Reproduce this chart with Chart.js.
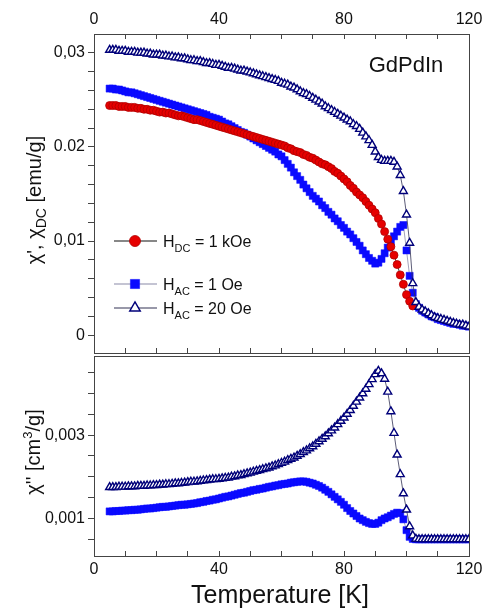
<!DOCTYPE html>
<html>
<head>
<meta charset="utf-8">
<script src="https://cdn.jsdelivr.net/npm/chart.js@4.4.1/dist/chart.umd.min.js"></script>
<style>
  html, body { margin: 0; padding: 0; background: #fff; }
  #wrap { position: relative; width: 490px; height: 611px; overflow: hidden; }
  canvas { position: absolute; left: 0; }
  #top { top: 0; }
  #bottom { top: 350px; }
</style>
</head>
<body>
<div id="wrap">
  <canvas id="top" width="490" height="360"></canvas>
  <canvas id="bottom" width="490" height="261"></canvas>
</div>
<script>
// Temperature grid, K
const temps = [
  5, 6, 7, 8, 9, 10, 11, 12, 13, 14,
  15, 16, 17, 18, 19, 20, 21, 22, 23, 24,
  25, 26, 27, 28, 29, 30, 31, 32, 33, 34,
  35, 36, 37, 38, 39, 40, 41, 42, 43, 44,
  45, 46, 47, 48, 49, 50, 51, 52, 53, 54,
  55, 56, 57, 58, 59, 60, 61, 62, 63, 64,
  65, 66, 67, 68, 69, 70, 71, 72, 73, 74,
  75, 76, 77, 78, 79, 80, 81, 82, 83, 84,
  85, 86, 87, 88, 89, 90, 91, 92, 93, 94,
  95, 96, 97, 98, 99, 100, 101, 102, 103, 104,
  105, 106, 107, 108, 109, 110, 111, 112, 113, 114,
  115, 116, 117, 118, 119, 120
];

// chi_DC, H_DC = 1 kOe (emu/g)
const chiDC_1kOe = [
  .0244, .0244, .0244, .0243, .0243, .0243, .0242, .0242, .0242, .0241,
  .0241, .0240, .0240, .0239, .0239, .0238, .0237, .0237, .0236, .0236,
  .0235, .0234, .0233, .0233, .0232, .0231, .0230, .0229, .0229, .0228,
  .0227, .0226, .0225, .0224, .0223, .0222, .0221, .0220, .0219, .0218,
  .0217, .0216, .0215, .0214, .0213, .0212, .0211, .0210, .0209, .0208,
  .0207, .0206, .0205, .0204, .0203, .0202, .0201, .0199, .0198, .0196,
  .0195, .0194, .0192, .0191, .0189, .0188, .0186, .0184, .0182, .0181,
  .0179, .0177, .0174, .0172, .0169, .0166, .0163, .0159, .0156, .0152,
  .0149, .0146, .0142, .0138, .0134, .0130, .0124, .0118, .0110, .0102,
  .0094, .0085, .0075, .0064, .0054, .0043, .0036, .0031, null, null,
  null, null, null, null, null, null, null, null, null, null,
  null, null, null, null, null, null
];

// chi', H_AC = 1 Oe
const chiRe_1Oe = [
  .0262, .0262, .0261, .0261, .0260, .0259, .0258, .0258, .0257, .0256,
  .0255, .0254, .0253, .0252, .0251, .0250, .0249, .0248, .0247, .0246,
  .0245, .0244, .0243, .0242, .0241, .0240, .0239, .0238, .0237, .0236,
  .0235, .0234, .0232, .0231, .0230, .0229, .0227, .0225, .0224, .0222,
  .0220, .0218, .0216, .0215, .0213, .0211, .0209, .0207, .0205, .0203,
  .0201, .0199, .0197, .0195, .0192, .0190, .0186, .0182, .0178, .0173,
  .0169, .0165, .0160, .0156, .0152, .0148, .0145, .0142, .0138, .0135,
  .0131, .0128, .0124, .0121, .0117, .0114, .0110, .0107, .0103, .0099,
  .0095, .0090, .0086, .0082, .0079, .0076, .0077, .0081, .0087, .0093,
  .0099, .0105, .0110, .0115, .0117, .0090, .0063, .0045, .0033, .0029,
  .0026, .0024, .0022, .0020, .0019, .0017, .0016, .0015, .0014, .0013,
  .0012, .0012, .0011, .0010, .0010, .0009
];

// chi', H_AC = 20 Oe
const chiRe_20Oe = [
  .0303, .0303, .0303, .0302, .0302, .0302, .0301, .0301, .0301, .0300,
  .0300, .0300, .0299, .0299, .0298, .0298, .0298, .0297, .0297, .0296,
  .0296, .0295, .0295, .0294, .0294, .0293, .0292, .0292, .0291, .0291,
  .0290, .0289, .0289, .0288, .0287, .0287, .0286, .0285, .0284, .0284,
  .0283, .0282, .0281, .0281, .0280, .0279, .0278, .0277, .0276, .0275,
  .0274, .0273, .0272, .0271, .0270, .0268, .0267, .0266, .0264, .0263,
  .0261, .0259, .0257, .0256, .0254, .0252, .0250, .0248, .0246, .0243,
  .0241, .0239, .0237, .0235, .0233, .0231, .0229, .0227, .0224, .0222,
  .0219, .0215, .0211, .0207, .0202, .0195, .0189, .0186, .0185, .0185,
  .0185, .0184, .0179, .0170, .0153, .0128, .0098, .0055, .0035, .0030,
  .0027, .0025, .0023, .0021, .0019, .0018, .0017, .0016, .0015, .0014,
  .0013, .0012, .0011, .0011, .0010, .0009
];

// chi'', H_AC = 1 Oe (cm3/g)
const chiIm_1Oe = [
  .00117, .00117, .00118, .00118, .00119, .00119, .00120, .00120, .00121, .00121,
  .00122, .00123, .00124, .00124, .00125, .00126, .00127, .00128, .00128, .00129,
  .00130, .00131, .00132, .00133, .00133, .00134, .00135, .00136, .00137, .00139,
  .00140, .00142, .00143, .00145, .00146, .00148, .00150, .00152, .00153, .00155,
  .00157, .00159, .00161, .00162, .00164, .00166, .00168, .00169, .00171, .00172,
  .00174, .00176, .00177, .00179, .00180, .00182, .00183, .00184, .00186, .00187,
  .00188, .00189, .00189, .00188, .00186, .00184, .00181, .00178, .00174, .00169,
  .00164, .00158, .00152, .00146, .00140, .00133, .00125, .00118, .00112, .00106,
  .00100, .00096, .00092, .00089, .00087, .00087, .00090, .00096, .00100, .00103,
  .00107, .00111, .00114, .00113, .00098, .00072, .00056, .00051, .00050, .00050,
  .00050, .00050, .00050, .00050, .00050, .00050, .00050, .00050, .00050, .00050,
  .00050, .00050, .00050, .00050, .00050, .00050
];

// chi'', H_AC = 20 Oe
const chiIm_20Oe = [
  .00175, .00175, .00175, .00176, .00176, .00176, .00177, .00177, .00177, .00178,
  .00178, .00178, .00179, .00179, .00180, .00180, .00181, .00181, .00182, .00182,
  .00183, .00184, .00184, .00185, .00186, .00187, .00188, .00188, .00189, .00190,
  .00191, .00192, .00193, .00194, .00194, .00195, .00196, .00197, .00198, .00200,
  .00201, .00203, .00204, .00206, .00208, .00210, .00212, .00214, .00216, .00218,
  .00220, .00222, .00225, .00227, .00230, .00233, .00236, .00240, .00243, .00246,
  .00250, .00254, .00259, .00263, .00268, .00273, .00279, .00285, .00291, .00297,
  .00304, .00311, .00318, .00326, .00334, .00342, .00351, .00360, .00370, .00380,
  .00390, .00400, .00411, .00422, .00434, .00446, .00454, .00448, .00435, .00404,
  .00357, .00305, .00253, .00206, .00160, .00121, .00081, .00059, .00051, .00050,
  .00050, .00050, .00050, .00050, .00050, .00050, .00050, .00050, .00050, .00050,
  .00050, .00050, .00050, .00050, .00050, .00050
];

const xTickValues = [0, 40, 80, 120];
const topTickValues = [0, 0.01, 0.02, 0.03];
const topTickText = ['0', '0,01', '0.02', '0,03'];
const bottomTickValues = [0.001, 0.003];
const bottomTickText = ['0,001', '0,003'];

const FONT = "'Liberation Sans', Arial, sans-serif";
const AXIS = '#444';
Chart.defaults.font.family = FONT;
Chart.defaults.color = '#111';

const styles = {
  dc:   { pointStyle: 'circle',   pointRadius: 4,   pointBackgroundColor: '#e60000', pointBorderColor: '#b00000', pointBorderWidth: 0.8, borderColor: '#111',    borderWidth: 0.8 },
  ac1:  { pointStyle: 'rect',     pointRadius: 5,   pointBackgroundColor: '#0a0aff', pointBorderColor: '#0a0aff', pointBorderWidth: 0.5, borderColor: '#8a8aa8', borderWidth: 0.8 },
  ac20: { pointStyle: 'triangle', pointRadius: 4.6, pointBackgroundColor: '#ffffff', pointBorderColor: '#00007a', pointBorderWidth: 1.4, borderColor: '#333355', borderWidth: 0.8 }
};

function points(values) {
  return temps.map((t, i) => ({ x: t, y: values[i] })).filter(p => p.y !== null);
}

function near(v, list) {
  return list.findIndex(t => Math.abs(v - t) < 1e-9);
}

// ticks at every multiple of step inside the axis range
function stepTicks(step, inclusive) {
  return scale => {
    const out = [];
    const eps = step * 1e-6;
    for (let k = Math.ceil(scale.min / step - 1e-6); k * step <= scale.max + eps; k++) {
      const v = Math.round(k * step * 1e7) / 1e7;
      if (inclusive || (v > scale.min + eps && v < scale.max - eps)) out.push({ value: v });
    }
    scale.ticks = out;
  };
}

function noPad(s) {
  s.paddingTop = 0; s.paddingBottom = 0; s.paddingLeft = 0; s.paddingRight = 0;
}

// text with sub/superscripts: parts = [[text, size, dy], ...]
function richText(ctx, parts, x, y, align) {
  let w = 0;
  parts.forEach(p => { ctx.font = p[1] + 'px ' + FONT; w += ctx.measureText(p[0]).width; });
  let cx = align === 'center' ? x - w / 2 : x;
  ctx.textAlign = 'left';
  ctx.textBaseline = 'alphabetic';
  parts.forEach(p => {
    ctx.font = p[1] + 'px ' + FONT;
    ctx.fillText(p[0], cx, y + (p[2] || 0));
    cx += ctx.measureText(p[0]).width;
  });
}

function legendMarker(ctx, st, x, y) {
  ctx.save();
  ctx.fillStyle = st.pointBackgroundColor;
  ctx.strokeStyle = st.pointBorderColor;
  ctx.lineWidth = st.pointBorderWidth;
  Chart.helpers.drawPoint(ctx, { pointStyle: st.pointStyle, radius: st.pointRadius + 1.5, rotation: 0, borderWidth: st.pointBorderWidth }, x, y);
  ctx.restore();
}

const topText = {
  id: 'topText',
  afterDraw(chart) {
    const ctx = chart.ctx;
    const a = chart.chartArea;
    ctx.save();
    ctx.fillStyle = '#111';
    richText(ctx, [['GdPdIn', 22]], 406, 72, 'center');

    // y title
    ctx.save();
    ctx.translate(41, 200);
    ctx.rotate(-Math.PI / 2);
    richText(ctx, [["\u03c7', \u03c7", 20], ['DC', 14, 5], [' [emu/g]', 20]], 0, 0, 'center');
    ctx.restore();

    // legend
    const rows = [
      { st: styles.dc,   y: a.top + 207, parts: [['H', 16], ['DC', 11, 5], [' = 1 kOe', 16]] },
      { st: styles.ac1,  y: a.top + 250, parts: [['H', 16], ['AC', 11, 5], [' = 1 Oe', 16]] },
      { st: styles.ac20, y: a.top + 274, parts: [['H', 16], ['AC', 11, 5], [' = 20 Oe', 16]] }
    ];
    rows.forEach(r => {
      ctx.strokeStyle = r.st.borderColor;
      ctx.lineWidth = 1.2;
      ctx.beginPath();
      ctx.moveTo(a.left + 20, r.y);
      ctx.lineTo(a.left + 63, r.y);
      ctx.stroke();
      legendMarker(ctx, r.st, a.left + 41, r.y);
      ctx.fillStyle = '#111';
      richText(ctx, r.parts, a.left + 69, r.y + 6, 'left');
    });
    ctx.restore();
  }
};

const bottomText = {
  id: 'bottomText',
  afterDraw(chart) {
    const ctx = chart.ctx;
    ctx.save();
    ctx.fillStyle = '#111';
    ctx.save();
    ctx.translate(40, 102);
    ctx.rotate(-Math.PI / 2);
    richText(ctx, [["\u03c7'' [cm", 20], ['3', 13, -8], ['/g]', 20]], 0, 0, 'center');
    ctx.restore();
    richText(ctx, [['Temperature [K]', 25]], 280, 253, 'center');
    ctx.restore();
  }
};

function xAxis(position, height, opts) {
  return Object.assign({
    type: 'linear', position, min: 0, max: 120,
    border: { color: AXIS, width: 1 },
    grid: { drawOnChartArea: false, color: AXIS, tickLength: -5 },
    afterBuildTicks: stepTicks(10, true),
    afterFit: s => { noPad(s); s.height = height; },
    ticks: { autoSkip: false, maxRotation: 0, padding: 9, font: { size: 16 }, color: '#111',
             callback: v => (near(v, xTickValues) >= 0 ? String(v) : '') }
  }, opts);
}

function yAxis(min, max, step, values, text) {
  return {
    type: 'linear', position: 'left', min, max,
    border: { color: AXIS, width: 1 },
    grid: { drawOnChartArea: false, color: AXIS, tickLength: 6 },
    afterBuildTicks: stepTicks(step, false),
    afterFit: s => { noPad(s); s.width = 94; },
    ticks: { autoSkip: false, padding: 3, font: { size: 16 }, color: '#111',
             callback: v => { const i = near(v, values); return i >= 0 ? text[i] : ''; } }
  };
}

function rightBorder(min, max) {
  return {
    type: 'linear', position: 'right', min, max,
    border: { color: AXIS, width: 1 },
    grid: { drawOnChartArea: false, drawTicks: false },
    ticks: { display: false },
    afterFit: s => { noPad(s); s.width = 21; }
  };
}

const common = {
  responsive: false,
  animation: false,
  events: [],
  layout: { padding: 0 },
  plugins: { legend: { display: false }, tooltip: { enabled: false } }
};

function series(values, st, order) {
  return Object.assign({ data: points(values), showLine: true, order, xAxisID: 'x', yAxisID: 'y', fill: false, tension: 0 }, st);
}

new Chart(document.getElementById('top'), {
  type: 'line',
  data: {
    datasets: [
      series(chiRe_20Oe, styles.ac20, 1),
      series(chiDC_1kOe, styles.dc, 2),
      series(chiRe_1Oe, styles.ac1, 3)
    ]
  },
  options: Object.assign({}, common, {
    scales: {
      x: xAxis('bottom', 7, { ticks: { display: false } }),
      x2: xAxis('top', 34, { ticks: { autoSkip: false, maxRotation: 0, padding: 10, font: { size: 16 }, color: '#111',
                                       callback: v => (near(v, xTickValues) >= 0 ? String(v) : '') } }),
      y: yAxis(-0.0019, 0.032, 0.002, topTickValues, topTickText),
      yr: rightBorder(-0.0019, 0.032)
    }
  }),
  plugins: [topText]
});

new Chart(document.getElementById('bottom'), {
  type: 'line',
  data: {
    datasets: [
      series(chiIm_20Oe, styles.ac20, 1),
      series(chiIm_1Oe, styles.ac1, 2)
    ]
  },
  options: Object.assign({}, common, {
    scales: {
      x: xAxis('bottom', 55, {}),
      x2: xAxis('top', 4, { grid: { drawOnChartArea: false, drawTicks: false }, ticks: { display: false } }),
      y: yAxis(0.0001, 0.0049, 0.0005, bottomTickValues, bottomTickText),
      yr: rightBorder(0.0001, 0.0049)
    }
  }),
  plugins: [bottomText]
});
</script>
</body>
</html>
